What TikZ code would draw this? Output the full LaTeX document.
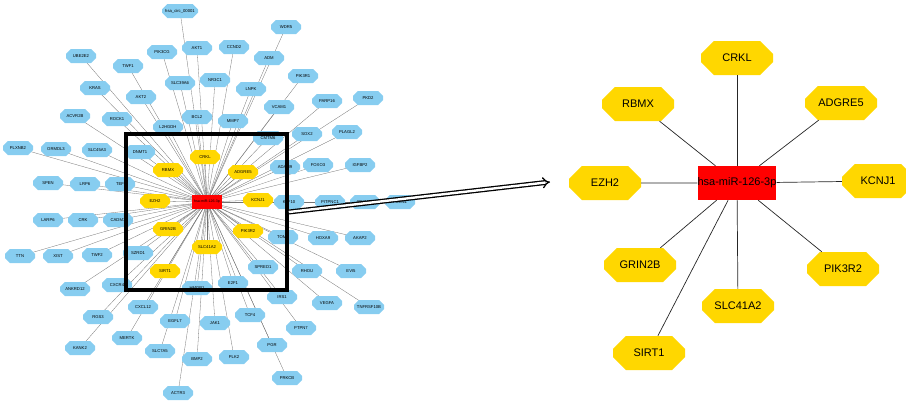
\documentclass[tikz,border=0pt]{standalone}
\usepackage{fontspec}
\setmainfont{Liberation Sans}
\usepackage{tikz}
\usetikzlibrary{arrows.meta}
\usetikzlibrary{shapes.misc}
\usetikzlibrary{backgrounds}
\definecolor{geneblue}{RGB}{135,205,240}
\definecolor{geneyellow}{RGB}{255,215,0}
\definecolor{mirred}{RGB}{255,0,0}
\tikzset{
    gnode/.style = {align=center, inner sep=0pt, text centered, draw=none},
    blue_node/.style = {gnode, chamfered rectangle, chamfered rectangle xsep=4pt, chamfered rectangle ysep=3.5pt, fill=geneblue, minimum width=30pt, minimum height=14pt, font=\fontsize{4.2}{4.2}\selectfont},
    yellow_node/.style = {blue_node, fill=geneyellow},
    mir_node/.style = {gnode, rectangle, fill=mirred, minimum width=30pt, minimum height=14pt, font=\fontsize{3.6}{3.6}\selectfont},
    big_node/.style = {gnode, chamfered rectangle, chamfered rectangle xsep=11pt, chamfered rectangle ysep=9pt, fill=geneyellow, minimum width=72pt, minimum height=34pt, font=\fontsize{11}{11}\selectfont},
    big_mir/.style = {gnode, rectangle, fill=mirred, minimum width=72pt, minimum height=34pt, font=\fontsize{11}{11}\selectfont},
    thin_link/.style = {draw=black!55, line width=0.3pt},
    link/.style = {draw=black!85, line width=0.7pt}
}

\begin{document}
\begin{tikzpicture}[x=1pt, y=-1pt]
    \useasboundingbox (0,0) rectangle (906,400);

    \node [mir_node] (l_mir) at (207,202) {hsa-miR-126-3p};

    \node [yellow_node] (l_crkl) at (205,157) {CRKL};
    \node [yellow_node] (l_rbmx) at (168,170) {RBMX};
    \node [yellow_node] (l_adgre5) at (243,172) {ADGRE5};
    \node [yellow_node] (l_ezh2) at (155,201) {EZH2};
    \node [yellow_node] (l_kcnj1) at (258,200) {KCNJ1};
    \node [yellow_node] (l_grin2b) at (168,229) {GRIN2B};
    \node [yellow_node] (l_pik3r2) at (248,231) {PIK3R2};
    \node [yellow_node] (l_slc41a2) at (207,247) {SLC41A2};
    \node [yellow_node] (l_sirt1) at (165,271) {SIRT1};

    \node [blue_node, minimum width=36pt] (circ) at (180,11) {hsa\_circ\_00001};
    \node [blue_node] (wdr5) at (286,27) {WDR5};
    \node [blue_node] (ube2e2) at (81,56) {UBE2E2};
    \node [blue_node] (pik3cg) at (162,52) {PIK3CG};
    \node [blue_node] (akt1) at (197,48) {AKT1};
    \node [blue_node] (ccnd2) at (234,47) {CCND2};
    \node [blue_node] (adm) at (269,58) {ADM};
    \node [blue_node] (twf1) at (128,66) {TWF1};
    \node [blue_node] (pik3r1) at (303,76) {PIK3R1};
    \node [blue_node] (slc39a6) at (180,83) {SLC39A6};
    \node [blue_node] (nr3c1) at (215,80) {NR3C1};
    \node [blue_node] (kras) at (95,88) {KRAS};
    \node [blue_node] (lnpk) at (251,89) {LNPK};
    \node [blue_node] (akt2) at (141,97) {AKT2};
    \node [blue_node] (parp16) at (327,101) {PARP16};
    \node [blue_node] (pkd2) at (368,98) {PKD2};
    \node [blue_node] (vcam1) at (279,107) {VCAM1};
    \node [blue_node] (acvr2b) at (75,116) {ACVR2B};
    \node [blue_node] (rock1) at (117,119) {ROCK1};
    \node [blue_node] (bcl2) at (197,117) {BCL2};
    \node [blue_node] (mmp7) at (233,121) {MMP7};
    \node [blue_node] (l2hgdh) at (168,127) {L2HGDH};
    \node [blue_node] (sox2) at (307,134) {SOX2};
    \node [blue_node] (plagl2) at (347,132) {PLAGL2};
    \node [blue_node] (cmtm6) at (268,138) {CMTM6};
    \node [blue_node] (plxnb2) at (18,148) {PLXNB2};
    \node [blue_node] (ormdl3) at (56,149) {ORMDL3};
    \node [blue_node] (slc45a3) at (97,150) {SLC45A3};
    \node [blue_node] (dnmt1) at (140,152) {DNMT1};
    \node [blue_node] (adam9) at (285,167) {ADAM9};
    \node [blue_node] (foxo3) at (318,165) {FOXO3};
    \node [blue_node] (igfbp2) at (360,165) {IGFBP2};
    \node [blue_node] (spen) at (48,183) {SPEN};
    \node [blue_node] (lrp6) at (85,184) {LRP6};
    \node [blue_node] (tef) at (120,184) {TEF};
    \node [blue_node] (klf10) at (289,202) {KLF10};
    \node [blue_node] (pitpnc1) at (330,202) {PITPNC1};
    \node [blue_node] (pik3cd) at (365,202) {PIK3CD};
    \node [blue_node] (foxn1) at (400,202) {FOXN1};
    \node [blue_node] (larp6) at (48,220) {LARP6};
    \node [blue_node] (crk) at (83,220) {CRK};
    \node [blue_node] (cadm1) at (118,220) {CADM1};
    \node [blue_node] (tom1) at (283,237) {TOM1};
    \node [blue_node] (hoxa9) at (323,238) {HOXA9};
    \node [blue_node] (akap2) at (360,238) {AKAP2};
    \node [blue_node] (ttn) at (20,256) {TTN};
    \node [blue_node] (xist) at (58,256) {XIST};
    \node [blue_node] (twf2) at (97,255) {TWF2};
    \node [blue_node] (szrd1) at (138,253) {SZRD1};
    \node [blue_node] (spred1) at (263,267) {SPRED1};
    \node [blue_node] (rhou) at (307,271) {RHOU};
    \node [blue_node] (evi5) at (351,271) {EVI5};
    \node [blue_node] (ankrd12) at (75,289) {ANKRD12};
    \node [blue_node] (cxcr4) at (117,285) {CXCR4};
    \node [blue_node] (hmgb1) at (197,288) {HMGB1};
    \node [blue_node] (e2f1) at (233,283) {E2F1};
    \node [blue_node] (irs1) at (282,297) {IRS1};
    \node [blue_node] (vegfa) at (327,303) {VEGFA};
    \node [blue_node] (tnfrsf10b) at (369,307) {TNFRSF10B};
    \node [blue_node] (rgs3) at (98,317) {RGS3};
    \node [blue_node] (cxcl12) at (143,307) {CXCL12};
    \node [blue_node] (tcf4) at (250,315) {TCF4};
    \node [blue_node] (egfl7) at (175,321) {EGFL7};
    \node [blue_node] (jak1) at (215,323) {JAK1};
    \node [blue_node] (ptpn7) at (301,328) {PTPN7};
    \node [blue_node] (mertk) at (127,338) {MERTK};
    \node [blue_node] (kank2) at (80,348) {KANK2};
    \node [blue_node] (slc7a5) at (160,351) {SLC7A5};
    \node [blue_node] (pgr) at (272,345) {PGR};
    \node [blue_node] (bmp2) at (197,359) {BMP2};
    \node [blue_node] (plk2) at (234,357) {PLK2};
    \node [blue_node] (prkcb) at (287,378) {PRKCB};
    \node [blue_node] (actr3) at (178,393) {ACTR3};

    \begin{scope}[on background layer]
    \path [thin_link] (l_mir.center)
        edge (l_crkl) edge (l_rbmx) edge (l_adgre5) edge (l_ezh2) edge (l_kcnj1)
        edge (l_grin2b) edge (l_pik3r2) edge (l_slc41a2) edge (l_sirt1)
        edge (circ.center) edge (wdr5.center) edge (ube2e2.center) edge (pik3cg.center)
        edge (akt1.center) edge (ccnd2.center) edge (adm.center) edge (twf1.center)
        edge (pik3r1.center) edge (slc39a6.center) edge (nr3c1.center) edge (kras.center)
        edge (lnpk.center) edge (akt2.center) edge (parp16.center) edge (pkd2.center)
        edge (vcam1.center) edge (acvr2b.center) edge (rock1.center) edge (bcl2.center)
        edge (mmp7.center) edge (l2hgdh.center) edge (sox2.center) edge (plagl2.center)
        edge (cmtm6.center) edge (plxnb2.center) edge (ormdl3.center) edge (slc45a3.center)
        edge (dnmt1.center) edge (adam9.center) edge (foxo3.center) edge (igfbp2.center)
        edge (spen.center) edge (lrp6.center) edge (tef.center) edge (klf10.center)
        edge (pitpnc1.center) edge (pik3cd.center) edge (foxn1.center) edge (larp6.center)
        edge (crk.center) edge (cadm1.center) edge (tom1.center) edge (hoxa9.center)
        edge (akap2.center) edge (ttn.center) edge (xist.center) edge (twf2.center)
        edge (szrd1.center) edge (spred1.center) edge (rhou.center) edge (evi5.center)
        edge (ankrd12.center) edge (cxcr4.center) edge (hmgb1.center) edge (e2f1.center)
        edge (irs1.center) edge (vegfa.center) edge (tnfrsf10b.center) edge (rgs3.center)
        edge (cxcl12.center) edge (tcf4.center) edge (egfl7.center) edge (jak1.center)
        edge (ptpn7.center) edge (mertk.center) edge (kank2.center) edge (slc7a5.center)
        edge (pgr.center) edge (bmp2.center) edge (plk2.center) edge (prkcb.center)
        edge (actr3.center);
    \end{scope}

    \node [draw=black, line width=3.5pt, minimum width=161pt, minimum height=156pt, inner sep=0pt] (zoom_box) at (206.5,212) {};

    \coordinate (arrow_tip) at (550,182);
    \draw [double=white, double distance=2.4pt, line width=1.3pt, -{Implies}] (zoom_box.east) -- (arrow_tip);

    \node [big_mir] (r_mir) at (737,183) {hsa-miR-126-3p};
    \node [big_node] (r_crkl) at (737,58) {CRKL};
    \node [big_node] (r_rbmx) at (638,104) {RBMX};
    \node [big_node] (r_adgre5) at (841,103) {ADGRE5};
    \node [big_node] (r_ezh2) at (605,183) {EZH2};
    \node [big_node] (r_kcnj1) at (878,181) {KCNJ1};
    \node [big_node] (r_grin2b) at (640,265) {GRIN2B};
    \node [big_node] (r_pik3r2) at (843,269) {PIK3R2};
    \node [big_node] (r_slc41a2) at (738,306) {SLC41A2};
    \node [big_node] (r_sirt1) at (649,353) {SIRT1};

    \path [link] (r_mir)
        edge (r_crkl) edge (r_rbmx) edge (r_adgre5) edge (r_ezh2) edge (r_kcnj1)
        edge (r_grin2b) edge (r_pik3r2) edge (r_slc41a2) edge (r_sirt1);
\end{tikzpicture}
\end{document}
